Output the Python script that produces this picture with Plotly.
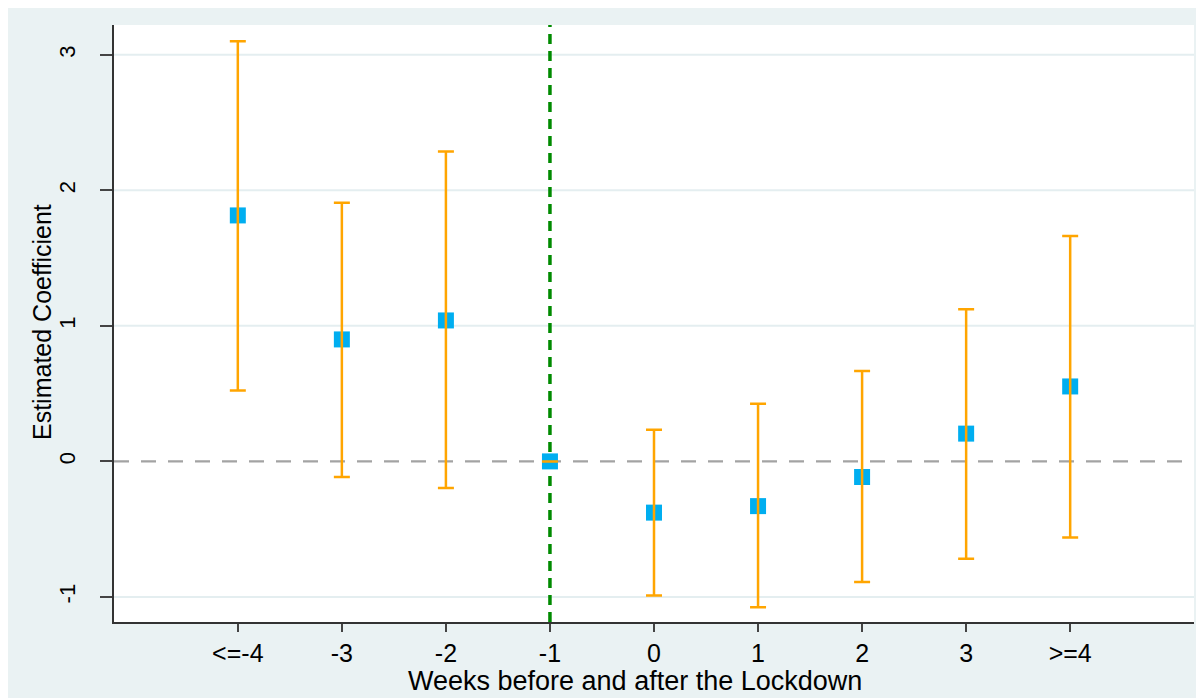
import plotly.graph_objects as go

# Data
weeks = ["<=-4", "-3", "-2", "-1", "0", "1", "2", "3", ">=4"]
estimate = [1.815, 0.90, 1.04, 0.0, -0.378, -0.330, -0.115, 0.205, 0.553]
ci_upper = [3.10, 1.909, 2.286, 0.0, 0.234, 0.426, 0.667, 1.122, 1.663]
ci_lower = [0.524, -0.116, -0.197, 0.0, -0.989, -1.077, -0.890, -0.718, -0.561]
y_ticks = [-1, 0, 1, 2, 3]
lockdown_ref = "-1"
x_title = "Weeks before and after the Lockdown"
y_title = "Estimated Coefficient"

xpos = list(range(len(weeks)))
err_plus = [u - e for u, e in zip(ci_upper, estimate)]
err_minus = [e - l for e, l in zip(estimate, ci_lower)]

BLUE = "#00aef0"
ORANGE = "#ffa500"
BG = "#eaf2f3"
GRID = "#e4eef0"
FONT = "Liberation Sans, Arial, sans-serif"

# The page body adds an 8px margin: figure origin sits at page (8, 8)
OFF = 8
W, H = 1204 - OFF, 698 - OFF
L, R, T, B = 114 - OFF, 10, 25 - OFF, 76
pw, ph = W - L - R, H - T - B
def page_x(px):
    return (px - OFF - L) / pw
def page_y(py):
    return (H - B - (py - OFF)) / ph

fig = go.Figure()

# markers
fig.add_trace(go.Scatter(
    x=xpos, y=estimate, mode="markers",
    marker=dict(symbol="square", size=16, color=BLUE),
    showlegend=False, hoverinfo="skip",
))
# confidence intervals drawn above markers
fig.add_trace(go.Scatter(
    x=xpos, y=estimate, mode="markers",
    marker=dict(size=1, opacity=0),
    error_y=dict(type="data", symmetric=False, array=err_plus, arrayminus=err_minus,
                 color=ORANGE, thickness=2.5, width=8),
    showlegend=False,
))

fig.add_shape(type="rect", xref="paper", yref="paper", x0=0, x1=1, y0=0, y1=1,
              fillcolor="white", line_width=0, layer="below")
# horizontal grid lines (except at zero, where the reference line sits)
for v in y_ticks:
    if v != 0:
        fig.add_shape(type="line", xref="paper", yref="y", x0=0, x1=1, y0=v, y1=v,
                      line=dict(color=GRID, width=2), layer="below")
# zero reference line
fig.add_shape(type="line", xref="paper", yref="y", x0=0, x1=1, y0=0, y1=0,
              line=dict(color="#a3a3a3", width=2.2, dash="15px,12px"), layer="below")
# lockdown reference line
ref_x = weeks.index(lockdown_ref)
fig.add_shape(type="line", xref="x", yref="paper", x0=ref_x, x1=ref_x, y0=0, y1=1,
              line=dict(color="#008a00", width=3.5, dash="10px,7px"), layer="below")

# axis titles
fig.add_annotation(text=x_title, xref="paper", yref="paper",
                   x=page_x(635), y=page_y(681),
                   xanchor="center", yanchor="middle", showarrow=False,
                   font=dict(size=27, family=FONT, color="black"))
fig.add_annotation(text=y_title, xref="paper", yref="paper",
                   x=page_x(42), y=page_y(322),
                   xanchor="center", yanchor="middle", showarrow=False, textangle=-90,
                   font=dict(size=25, family=FONT, color="black"))

fig.update_layout(
    width=W, height=H,
    margin=dict(l=L, r=R, t=T, b=B, autoexpand=False),
    paper_bgcolor=BG, plot_bgcolor="white",
    font=dict(family=FONT, color="black"),
    showlegend=False,
)
fig.update_xaxes(
    range=[-1.19, len(weeks) - 1 + 1.19],
    tickvals=xpos, ticktext=weeks,
    tickfont=dict(size=25),
    ticks="outside", ticklen=8, tickwidth=1.5, tickcolor="#444",
    showline=True, linecolor="#333", linewidth=1.5,
    showgrid=False, zeroline=False, automargin=False,
)
fig.update_yaxes(
    range=[-1.185, 3.22],
    tickvals=y_ticks, ticktext=[str(v) for v in y_ticks],
    tickangle=-90, tickfont=dict(size=22),
    ticks="outside", ticklen=12, tickwidth=1.5, tickcolor="#444",
    ticklabelstandoff=16,
    showline=True, linecolor="#333", linewidth=1.5,
    showgrid=False, zeroline=False, automargin=False,
)

fig.write_html("out.html")
